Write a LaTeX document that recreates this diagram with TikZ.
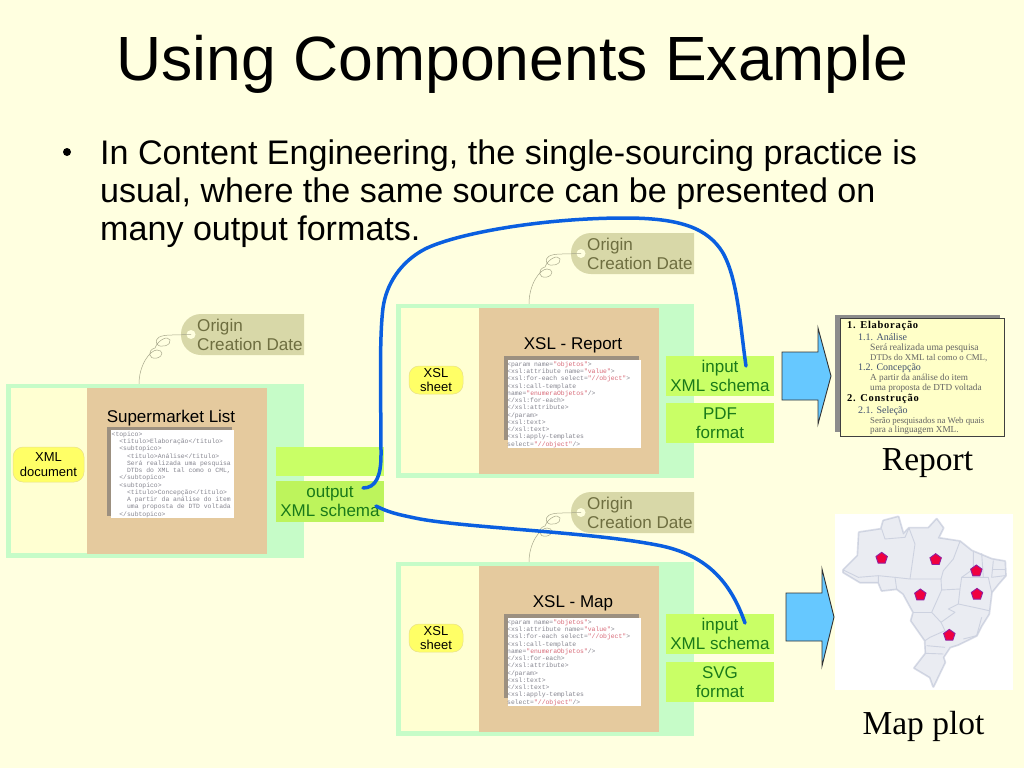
\documentclass[tikz,border=0pt]{standalone}
\usepackage{fontspec}
\setmainfont{Liberation Sans}
\newfontfamily\codefont{Liberation Mono}
\newfontfamily\serifont{Liberation Serif}
\newfontfamily\spacedserif[LetterSpace=7]{Liberation Serif}
\usetikzlibrary{shapes.geometric}
\definecolor{bgcol}{HTML}{FFFFE0}
\definecolor{groupcol}{HTML}{C6FCC8}
\definecolor{innercol}{HTML}{FFFFD2}
\definecolor{tancol}{HTML}{E5CA9E}
\definecolor{limecol}{HTML}{C9FF66}
\definecolor{limedark}{HTML}{BDF45C}
\definecolor{limetext}{HTML}{1A7A1A}
\definecolor{tagcol}{HTML}{D8D8A8}
\definecolor{tagtext}{HTML}{6E6E40}
\definecolor{pillcol}{HTML}{FFFF66}
\definecolor{pillline}{HTML}{E8E088}
\definecolor{bluecol}{HTML}{0A5FE0}
\definecolor{arrowcol}{HTML}{66C8FF}
\definecolor{codegrey}{HTML}{85858F}
\definecolor{codered}{HTML}{D86A78}
\definecolor{shadowcol}{HTML}{9C9080}
\definecolor{reportbg}{HTML}{FFFFC8}
\definecolor{reportblue}{HTML}{405070}
\definecolor{reportgrey}{HTML}{646464}
\definecolor{statecol}{HTML}{EAECF2}
\definecolor{stateline}{HTML}{CDD2E0}
\definecolor{pentcol}{HTML}{F00040}
\definecolor{pentline}{HTML}{9020A0}
\newcommand{\rr}[1]{\textcolor{codered}{#1}}
\newcommand{\ind}[1]{\hspace*{#1pt}}
\tikzset{
  x=1pt,y=-1pt,
  flat/.style={anchor=north west,inner sep=0pt,outer sep=0pt,draw=none},
  groupbox/.style={flat,fill=groupcol},
  innerbox/.style={flat,fill=innercol},
  tanbox/.style={flat,fill=tancol},
  shadowbox/.style={flat,fill=shadowcol},
  codebox/.style={flat,fill=white},
  codetext/.style={anchor=north west,inner sep=0pt,align=left,text=codegrey,font=\codefont\fontsize{6.4}{7.25}\selectfont},
  limebox/.style={flat,fill=limecol,text=limetext,align=center,font=\fontsize{17}{19}\selectfont},
  pill/.style={draw=pillline,fill=pillcol,rounded corners=10pt,inner sep=0pt,align=center,line width=.5pt,font=\fontsize{13}{14.5}\selectfont},
  tagshape/.style={fill=tagcol,draw=none},
  tagtxt/.style={anchor=west,inner sep=0pt,align=left,text=tagtext,font=\fontsize{17.1}{19}\selectfont},
  tagholenode/.style={circle,fill=bgcol,inner sep=0pt,minimum size=9pt},
  tagstring/.style={draw=tagtext!60,line width=.5pt},
  heading/.style={inner sep=0pt,text=black,font=\fontsize{17}{18}\selectfont},
  linkcurve/.style={draw=bluecol,line width=3.5pt,line cap=round},
  bigarrow/.style={fill=arrowcol,draw=black!80,line width=.9pt,line join=miter},
  rline/.style={anchor=base west,inner sep=0pt},
  rbold/.style={rline,text=black,font=\spacedserif\bfseries\fontsize{10.5}{12}\selectfont},
  rsub/.style={rline,text=reportblue,font=\serifont\fontsize{10}{11}\selectfont},
  rbody/.style={rline,text=reportgrey,font=\serifont\fontsize{8.8}{10}\selectfont},
  captiontext/.style={inner sep=0pt,font=\serifont\fontsize{33.5}{36}\selectfont},
  bodytext/.style={anchor=base west,inner sep=0pt,font=\fontsize{34.1}{39}\selectfont},
  stateglow/.style={draw=stateline!70,line width=2.4pt,line join=round},
  statefill/.style={fill=statecol,draw=stateline,line width=.9pt,line join=round},
  stateborder/.style={draw=stateline,line width=.9pt,line join=round},
  pent/.style={regular polygon,regular polygon sides=5,fill=pentcol,draw=pentline,line width=.9pt,inner sep=0pt,minimum size=12pt},
}
\newcommand{\originTag}[3]{% name, y-top, x-shift
  \path[tagshape] (#3+304,#2) [rounded corners=20pt] -- (#3+181,#2) -- (#3+181,#2+41) [sharp corners] -- (#3+304,#2+41) -- cycle;
  \node[tagholenode] (#1hole) at (#3+191,#2+20.5) {};
  \node[tagtxt] (#1txt) at (#3+197,#2+20.5) {Origin\\Creation Date};
}
\newcommand{\tagString}[4]{% hole name, tie name, x shift, y shift
  \begin{scope}[shift={(#3,#4)}]
  \draw[tagstring] (#1.center) -- (172,335) .. controls (160,335) and (154,338) .. (157,344)
    .. controls (160,349) and (172,345) .. (170,340) .. controls (168,335) and (158,340) .. (155,348)
    .. controls (147,350) and (148,360) .. (157,358) .. controls (164,356) and (163,350) .. (157,350)
    .. controls (150,350) and (139,365) .. (#2);
  \end{scope}
}
\newcommand{\xslcode}{%
<param name=\rr{"objetos"}>\\
<xsl:attribute name=\rr{"value"}>\\
<xsl:for-each select=\rr{"//object"}>\\
<xsl:call-template\\
name=\rr{"enumeraObjetos"}/>\\
</xsl:for-each>\\
</xsl:attribute>\\
</param>\\
<xsl:text>\\
</xsl:text>\\
<xsl:apply-templates\\
select=\rr{"//object"}/>}
\begin{document}
\begin{tikzpicture}
\useasboundingbox (0,0) rectangle (1024,768);
\fill[bgcol] (0,0) rectangle (1024,768);

% title and body
\node[anchor=base,inner sep=0pt,font=\fontsize{62.5}{66}\selectfont] (title) at (512.5,80) {Using Components Example};
\fill (67,152) circle (4pt);
\node[bodytext] (line1) at (100,164) {In Content Engineering, the single-sourcing practice is};
\node[bodytext] (line2) at (100,202) {usual, where the same source can be presented on};
\node[bodytext] (line3) at (100,240) {many output formats.};

% tags
\originTag{tagA}{314}{0}
\originTag{tagB}{233}{390}
\originTag{tagC}{492}{390}
\coordinate (tieA) at (139,384);
\coordinate (tieB) at (529,304);
\coordinate (tieC) at (529,562);
\tagString{tagAhole}{tieA}{0}{0}
\tagString{tagBhole}{tieB}{390}{-81}
\tagString{tagChole}{tieC}{390}{178}

% group 1
\node[groupbox,minimum width=298pt,minimum height=173.5pt] (grpA) at (6,384) {};
\node[innerbox,minimum width=77pt,minimum height=165pt] (inA) at (10.5,388) {};
\node[tanbox,minimum width=180pt,minimum height=166pt] (tanA) at (87,388) {};
\node[heading] (headA) at (171,418) {Supermarket List};
\node[shadowbox,minimum width=125pt,minimum height=89pt] (shadA) at (107,427) {};
\node[codebox,minimum width=123.5pt,minimum height=88pt] (codeA) at (110.5,430) {};
\node[codetext] (codeAtxt) at (111.5,431.6) {%
<topico>\\
\ind{7.7}<titulo>Elaboração</titulo>\\
\ind{7.7}<subtopico>\\
\ind{15.4}<titulo>Análise</titulo>\\
\ind{15.4}Será realizada uma pesquisa\\
\ind{15.4}DTDs do XML tal como o CML,\\
\ind{7.7}</subtopico>\\
\ind{7.7}<subtopico>\\
\ind{15.4}<titulo>Concepção</titulo>\\
\ind{15.4}A partir da análise do item\\
\ind{15.4}uma proposta de DTD voltada\\
\ind{7.7}</subtopico>};
\node[pill,minimum width=71pt,minimum height=35pt] (pillA) at (48.5,464.5) {XML\\document};

\node[limebox,minimum width=108pt,minimum height=29pt] (blank) at (276,447) {};
\node[limebox,fill=limedark,minimum width=108pt,minimum height=41pt] (outbox) at (276,481) {output\\XML schema};

% group 2
\node[groupbox,minimum width=298pt,minimum height=173.5pt] (grpB) at (396,304) {};
\node[innerbox,minimum width=79pt,minimum height=165pt] (inB) at (400.5,308) {};
\node[tanbox,minimum width=179.5pt,minimum height=166pt] (tanB) at (479,308) {};
\node[heading] (headB) at (573,345) {XSL - Report};
\node[shadowbox,minimum width=135pt,minimum height=84pt] (shadB) at (504,356) {};
\node[codebox,minimum width=133pt,minimum height=87.5pt] (codeB) at (508,360) {};
\node[codetext] (codeBtxt) at (507,361.5) {\xslcode};
\node[pill,minimum width=54pt,minimum height=28pt] (pillB) at (436,380) {XSL\\sheet};
\node[limebox,minimum width=108pt,minimum height=40pt] (inputB) at (666,356) {input\\XML schema};
\node[limebox,minimum width=108pt,minimum height=40pt] (pdf) at (666,403) {PDF\\format};

% group 3
\node[groupbox,minimum width=298pt,minimum height=174pt] (grpC) at (396,562) {};
\node[innerbox,minimum width=79pt,minimum height=165pt] (inC) at (400.5,566) {};
\node[tanbox,minimum width=179.5pt,minimum height=166pt] (tanC) at (479,566) {};
\node[heading] (headC) at (573,603) {XSL - Map};
\node[shadowbox,minimum width=135pt,minimum height=84pt] (shadC) at (504,614) {};
\node[codebox,minimum width=133pt,minimum height=87.5pt] (codeC) at (508,618) {};
\node[codetext] (codeCtxt) at (507,619.5) {\xslcode};
\node[pill,minimum width=54pt,minimum height=28pt] (pillC) at (436,638) {XSL\\sheet};
\node[limebox,minimum width=108pt,minimum height=40pt] (inputC) at (666,614) {input\\XML schema};
\node[limebox,minimum width=108pt,minimum height=40pt] (svg) at (666,662) {SVG\\format};

% connectors
\coordinate (outTop) at (363,488);
\coordinate (inTop) at (746,366);
\coordinate (outLow) at (376,506);
\coordinate (inLow) at (745,623);
\draw[linkcurve] (outTop) .. controls (376,488) and (381,476) .. (381,455)
  .. controls (381,400) and (379,340) .. (383,308)
  .. controls (386,285) and (400,262) .. (425,249)
  .. controls (455,234) and (540,218) .. (625,218)
  .. controls (680,218) and (708,228) .. (723,253)
  .. controls (738,280) and (740,325) .. (inTop);
\draw[linkcurve] (outLow) .. controls (388,512) and (395,514) .. (420,519)
  .. controls (470,528) and (590,532) .. (657,545)
  .. controls (705,554) and (730,580) .. (inLow);

% big arrows
\draw[bigarrow] (782,352) -- (818,352) -- (818,328) -- (831,376) -- (818,424) -- (818,400) -- (782,400) -- cycle;
\draw[bigarrow] (786,593) -- (822,593) -- (822,569) -- (834,617) -- (822,666) -- (822,641) -- (786,641) -- cycle;

% report
\fill[black!45] (835,315) rectangle (1000,432);
\node[flat,fill=reportbg,draw=black!75,line width=.9pt,minimum width=163.5pt,minimum height=118pt] (reportbox) at (840.5,318) {};
\node[rbold] (r1) at (847,328.5) {1. Elaboração};
\node[rsub] (r2) at (858,340.5) {1.1. Análise};
\node[rbody,font=\serifont\fontsize{9.6}{10}\selectfont] (r3) at (870,350) {Será realizada uma pesquisa};
\node[rbody] (r4) at (870,360) {DTDs do XML tal como o CML,};
\node[rsub] (r5) at (858,370.5) {1.2. Concepção};
\node[rbody,font=\serifont\fontsize{9.2}{10}\selectfont] (r6) at (870,380) {A partir da análise do item};
\node[rbody,font=\serifont\fontsize{9.2}{10}\selectfont] (r7) at (870,390) {uma proposta de DTD voltada};
\node[rbold] (r8) at (847,401.5) {2. Construção};
\node[rsub] (r9) at (858,413.5) {2.1. Seleção};
\node[rbody] (r10) at (870,423.5) {Serão pesquisados na Web quais};
\node[rbody,font=\serifont\fontsize{9.2}{10}\selectfont] (r11) at (870,432.5) {para a linguagem XML.};
\node[captiontext] (capR) at (927.5,463) {Report};

% map
\fill[white] (835,514) rectangle (1013,690);
\begin{scope}[shift={(835,514)},x=.3333pt,y=-.3333pt]
\newcommand{\brazil}{(25,168) -- (68,125) -- (72,55) -- (138,45) -- (145,20) -- (190,8) -- (205,60) -- (222,42)
  -- (280,42) -- (305,15) -- (325,42) -- (310,72) -- (375,82) -- (410,110) -- (470,135) -- (510,142)
  -- (512,185) -- (490,210) -- (470,235) -- (462,300) -- (440,335) -- (425,365) -- (370,392) -- (345,400)
  -- (325,430) -- (330,445) -- (295,518) -- (285,490) -- (238,462) -- (272,418) -- (270,380) -- (228,320)
  -- (235,295) -- (205,240) -- (185,225) -- (140,230) -- (130,205) -- (75,205) -- (25,175) -- cycle}
\path[stateglow] \brazil;
\path[statefill] \brazil;
\draw[stateborder] (25,168) -- (70,190) -- (130,185) -- (130,205);
\draw[stateborder] (140,45) -- (150,75) -- (210,70) -- (222,42);
\draw[stateborder] (222,42) -- (240,90) -- (225,195);
\draw[stateborder] (130,185) -- (180,190) -- (225,195);
\draw[stateborder] (180,190) -- (185,225);
\draw[stateborder] (225,195) -- (318,195) -- (320,228) -- (375,225);
\draw[stateborder] (375,82) -- (355,135) -- (325,170) -- (318,195);
\draw[stateborder] (320,228) -- (290,295) -- (318,325);
\draw[stateborder] (235,295) -- (290,295);
\draw[stateborder] (375,225) -- (370,270) -- (340,285) -- (360,295) -- (318,325);
\draw[stateborder] (370,270) -- (440,285) -- (462,290);
\draw[stateborder] (318,325) -- (330,350) -- (285,370) -- (270,380);
\draw[stateborder] (272,418) -- (325,420);
\draw[stateborder] (275,395) -- (330,400);
\draw[stateborder] (375,225) -- (380,190) -- (420,190) -- (460,190) -- (470,235);
\draw[stateborder] (415,112) -- (415,165) -- (380,190);
\draw[stateborder] (440,118) -- (445,190);
\draw[stateborder] (475,140) -- (470,190);
\draw[stateborder] (475,165) -- (512,165);
\draw[stateborder] (470,190) -- (510,185);
\draw[stateborder] (440,310) -- (425,365);
\draw[stateborder] (385,375) -- (425,365);
\node[pent] (p1) at (140,133) {};
\node[pent] (p2) at (302,137) {};
\node[pent] (p3) at (424,171) {};
\node[pent] (p4) at (426,241) {};
\node[pent] (p5) at (256,243) {};
\node[pent] (p6) at (343,364) {};
\end{scope}
\node[captiontext] (capM) at (923.5,726) {Map plot};
\end{tikzpicture}
\end{document}
